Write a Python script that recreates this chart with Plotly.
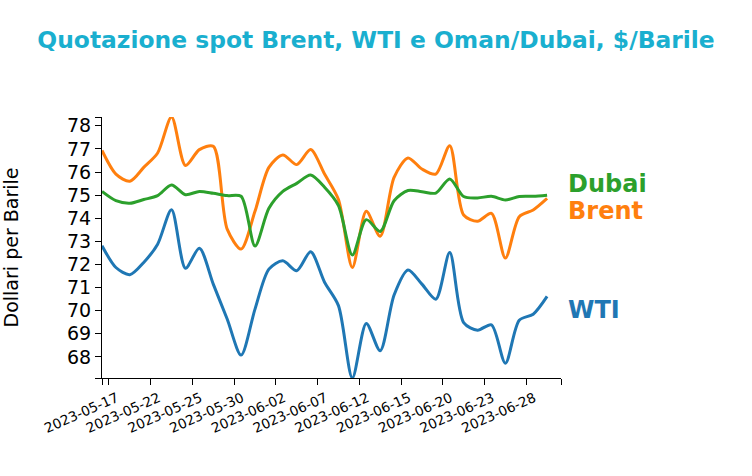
import plotly.graph_objects as go

dates = ["2023-05-17", "2023-05-18", "2023-05-19", "2023-05-22", "2023-05-23", "2023-05-24",
         "2023-05-25", "2023-05-26", "2023-05-29", "2023-05-30", "2023-05-31", "2023-06-01",
         "2023-06-02", "2023-06-05", "2023-06-06", "2023-06-07", "2023-06-08", "2023-06-09",
         "2023-06-12", "2023-06-13", "2023-06-14", "2023-06-15", "2023-06-16", "2023-06-19",
         "2023-06-20", "2023-06-21", "2023-06-22", "2023-06-23", "2023-06-26", "2023-06-27",
         "2023-06-28", "2023-06-29", "2023-06-30"]

brent = [76.93, 75.91, 75.60, 76.20, 76.82, 78.38, 76.28, 76.97, 77.11, 73.53, 72.67, 74.30,
         76.20, 76.74, 76.32, 76.97, 75.91, 74.81, 71.87, 74.30, 73.22, 75.77, 76.61, 76.13,
         75.91, 77.14, 74.14, 73.87, 74.21, 72.28, 74.07, 74.36, 74.86]

dubai = [75.16, 74.76, 74.65, 74.81, 74.98, 75.44, 75.02, 75.16, 75.08, 74.98, 74.95, 72.80,
         74.43, 75.16, 75.51, 75.87, 75.34, 74.55, 72.41, 73.94, 73.43, 74.76, 75.20, 75.15,
         75.09, 75.70, 74.94, 74.88, 74.95, 74.79, 74.94, 74.95, 75.00]

wti = [72.81, 71.87, 71.56, 72.09, 72.88, 74.37, 71.84, 72.70, 71.15, 69.64, 68.08, 70.07,
       71.80, 72.16, 71.73, 72.55, 71.23, 70.22, 67.09, 69.45, 68.27, 70.68, 71.76, 71.15,
       70.50, 72.52, 69.49, 69.16, 69.39, 67.73, 69.59, 69.85, 70.62]

series = [("WTI", wti, "#1f77b4", -14),
          ("Brent", brent, "#ff7f0e", -13),
          ("Dubai", dubai, "#2ca02c", 11)]

yticks = list(range(68, 79))

FONT = "DejaVu Sans"
idx = list(range(len(dates)))

fig = go.Figure()
for name, vals, color, _ in series:
    fig.add_trace(go.Scatter(
        x=idx, y=vals, mode="lines", name=name,
        line=dict(color=color, width=3, shape="spline", smoothing=0.8),
        showlegend=False, hoverinfo="skip"))

ymin = min(min(wti), min(brent), min(dubai))
ymax = max(max(wti), max(brent), max(dubai))

# tick labels sit at band centres; outer ticks at the range ends
n = len(dates)
tickvals = [0] + [i + 0.5 for i in range(0, n - 1, 3)] + [n]
ticktext = [""] + [dates[i] for i in range(0, n - 1, 3)] + [""]

annotations = []
for name, vals, color, ys in series:
    annotations.append(dict(
        x=idx[-1], y=vals[-1], xref="x", yref="y", text="<b>%s</b>" % name,
        showarrow=False, xanchor="left", yanchor="middle", xshift=19, yshift=ys,
        font=dict(family=FONT, size=24, color=color)))

fig.update_layout(
    width=752, height=476,
    margin=dict(l=102, r=191, t=117, b=98, autoexpand=False),
    paper_bgcolor="white", plot_bgcolor="white",
    font=dict(family=FONT, color="black"),
    title=dict(text="<b>Quotazione spot Brent, WTI e Oman/Dubai, $/Barile</b>",
               x=0.5, xref="container", xanchor="center",
               y=1 - 40 / 476, yref="container", yanchor="middle",
               font=dict(family=FONT, size=23.4, color="#1aafcf")),
    annotations=annotations,
)

fig.update_xaxes(
    range=[0, n], showgrid=False, zeroline=False,
    showline=True, linecolor="black", linewidth=1,
    ticks="outside", ticklen=6, tickcolor="black", tickwidth=1,
    tickmode="array", tickvals=tickvals, ticktext=ticktext,
    ticklabelshift=8,
    tickangle=-24, tickfont=dict(family=FONT, size=13.7, color="black"))

fig.update_yaxes(
    range=[ymin, ymax], showgrid=False, zeroline=False,
    showline=True, linecolor="black", linewidth=1,
    ticks="outside", ticklen=6, tickcolor="black", tickwidth=1,
    tickmode="array", tickvals=[ymin] + yticks + [ymax],
    ticktext=[""] + [str(v) for v in yticks] + [""],
    tickfont=dict(family=FONT, size=19, color="black"),
    title=dict(text="Dollari per Barile", standoff=48,
               font=dict(family=FONT, size=19, color="black")))

fig.write_html("out.html",
               config={"displayModeBar": False},
               post_script="document.body.style.margin='0px';document.body.style.padding='0px';")
